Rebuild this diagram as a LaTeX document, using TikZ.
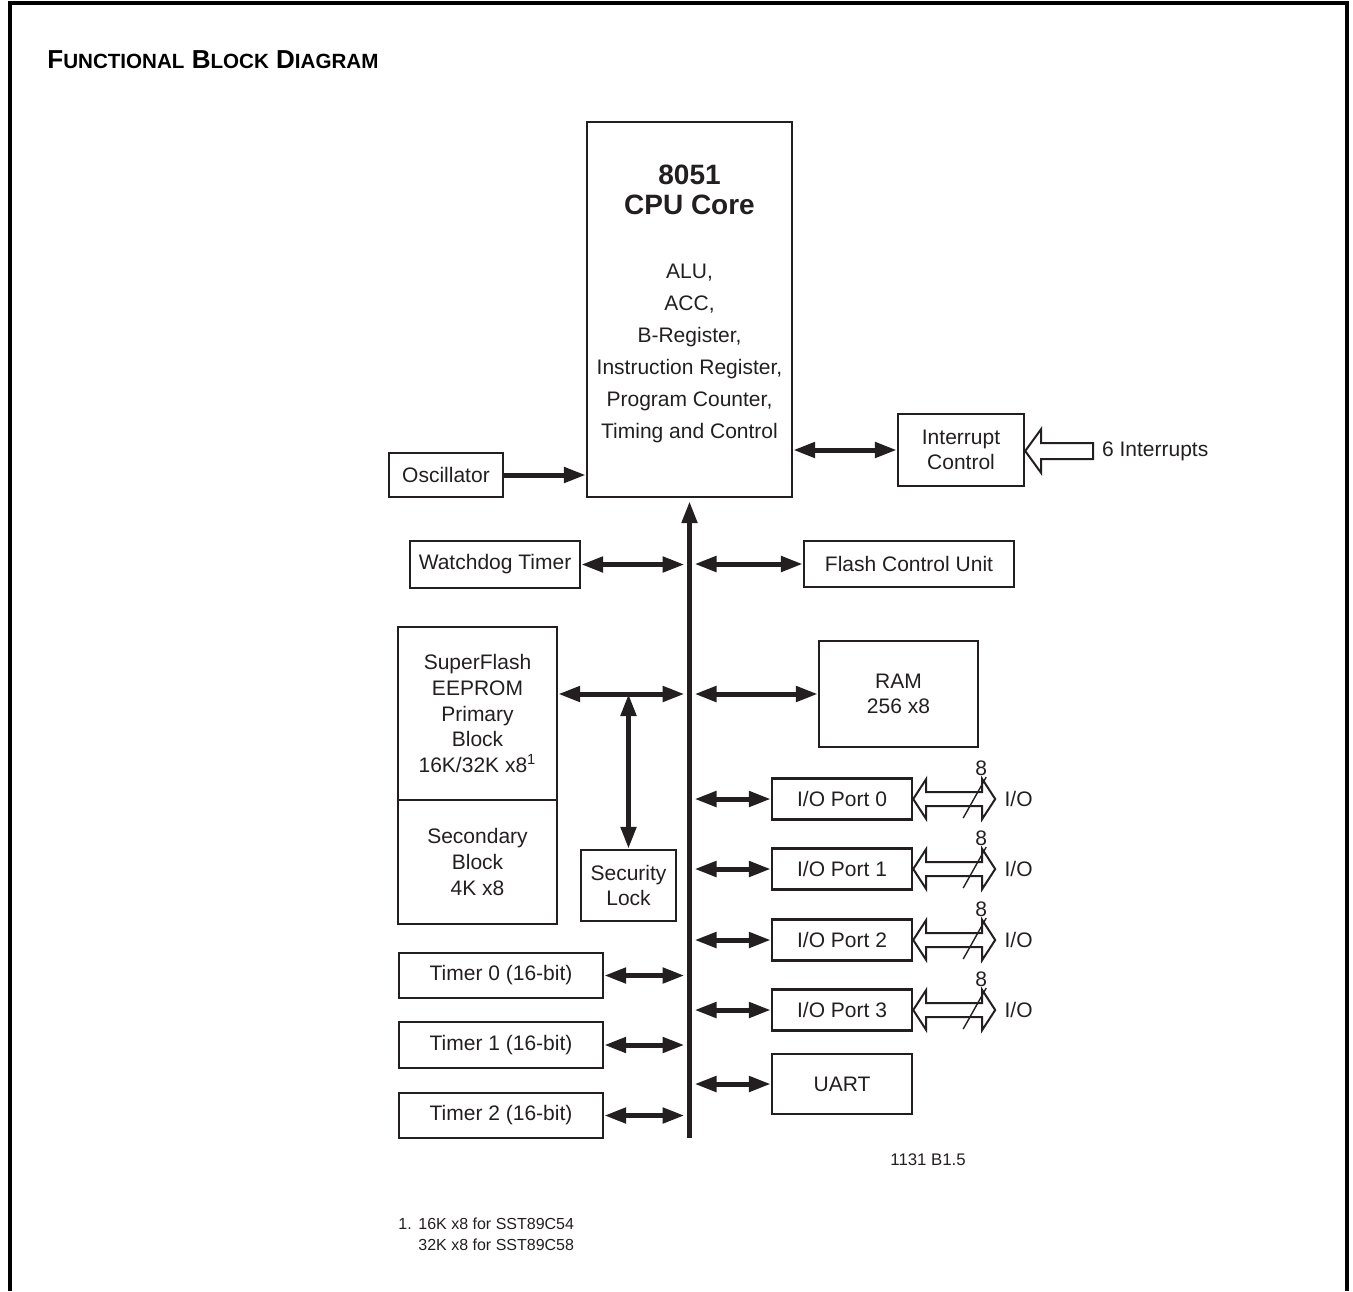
\documentclass[tikz,border=0pt]{standalone}
\usepackage{fontspec}
\setmainfont{Liberation Sans}
\usetikzlibrary{arrows.meta,calc}
\definecolor{ink}{HTML}{231F20}
\begin{document}
\begin{tikzpicture}[x=0.5pt,y=-0.5pt,
  every node/.style={text=ink, font=\fontsize{10.5}{12.8}\selectfont},
  box/.style={draw=ink, line width=1.2pt, inner sep=0pt, align=center},
  dbl/.style={draw=ink, line width=2.5pt, {Triangle[length=11pt,width=7.5pt]}-{Triangle[length=11pt,width=7.5pt]}},
  sgl/.style={draw=ink, line width=2.5pt, -{Triangle[length=11pt,width=7.5pt]}},
  hollow/.style={draw=ink, line width=1pt, fill=white, line join=miter},
  slash/.style={draw=ink, line width=0.7pt},
  small/.style={inner sep=0pt, font=\fontsize{8}{10.5}\selectfont},
]
\useasboundingbox (0,0) rectangle (1353,1291);
% frame
\draw[line width=2pt, black] (10,1291) -- (10,3) -- (1347,3) -- (1347,1291);
% title
\node[anchor=base west, inner sep=0pt, text=black, font=\bfseries\fontsize{13}{15}\selectfont] (title) at (47,68)
  {F{\fontsize{10.3}{12}\selectfont UNCTIONAL} B{\fontsize{10.3}{12}\selectfont LOCK} D{\fontsize{10.3}{12}\selectfont IAGRAM}};

% CPU
\node[box, minimum width=102.5pt, minimum height=187.5pt] (cpu) at (689.5,309.5) {};
\node[align=center, font=\bfseries\fontsize{14}{15}\selectfont] (cputitle) at (689.5,190) {8051\\CPU Core};
\node[align=center, font=\fontsize{10.5}{16}\selectfont] (cpulist) at (689.5,353)
  {ALU,\\ACC,\\B-Register,\\Instruction Register,\\Program Counter,\\Timing and Control};

\node[box, minimum width=57pt, minimum height=22pt] (osc) at (446,475) {Oscillator};
\node[box, minimum width=63pt, minimum height=36pt] (intc) at (961,450) {Interrupt\\Control};
\node[box, minimum width=85pt, minimum height=23.5pt] (wdt) at (495,564.5) {Watchdog Timer};
\node[box, minimum width=105pt, minimum height=23pt] (fcu) at (909,564) {Flash Control Unit};
\node[box, minimum width=79.5pt, minimum height=86.5pt] (prim) at (477.5,713.5)
  {SuperFlash\\EEPROM\\Primary\\Block\\16K/32K x8\textsuperscript{1}};
\node[box, minimum width=79.5pt, minimum height=62pt] (sec) at (477.5,862) {Secondary\\Block\\4K x8};
\node[box, minimum width=47.5pt, minimum height=35.5pt] (lock) at (628.5,885.5) {Security\\Lock};
\node[box, minimum width=79.5pt, minimum height=53pt] (ram) at (898.5,694) {RAM\\256 x8};
\node[box, minimum width=70pt, minimum height=30pt] (uart) at (842,1084) {UART};
\node[box, minimum width=102pt, minimum height=22.5pt] (t0) at (501,975.5) {Timer 0 (16-bit)};
\node[box, minimum width=102pt, minimum height=23pt] (t1) at (501,1045) {Timer 1 (16-bit)};
\node[box, minimum width=102pt, minimum height=22.5pt] (t2) at (501,1115.5) {Timer 2 (16-bit)};

% bus
\coordinate (busB) at (689.5,1138);
\draw[sgl, shorten >=1.5pt] (busB) -- (busB |- cpu.south);

% connectors
\draw[sgl] (osc) -- (osc -| cpu.west);
\draw[dbl] (cpu.east |- intc) -- (intc);
\draw[dbl, shorten >=2.5pt] (wdt) -- (wdt -| busB);
\draw[dbl, shorten >=2.5pt] (fcu) -- (fcu -| busB);
\coordinate (fj) at (lock.north |- ram);
\draw[dbl, shorten >=2.5pt] (prim.east |- ram) -- (ram -| busB);
\draw[dbl, shorten >=2.5pt] (ram) -- (ram -| busB);
\draw[dbl] (fj) -- (lock.north);
\draw[dbl, shorten >=2.5pt] (uart) -- (uart -| busB);
\draw[dbl, shorten >=2.5pt] (t0) -- (t0 -| busB);
\draw[dbl, shorten >=2.5pt] (t1) -- (t1 -| busB);
\draw[dbl, shorten >=2.5pt] (t2) -- (t2 -| busB);

% interrupts hollow arrow
\draw[hollow] (intc.east |- 0,451) -- ++(16,-22) -- ++(0,14) -- ++(52,0) -- ++(0,16) -- ++(-52,0) -- ++(0,14) -- cycle;
\coordinate (intEnd) at (1092,451);
\node[anchor=west] (intlbl) at (1095,451) {6 Interrupts};

% I/O ports
\foreach \i/\c in {0/799,1/869,2/940,3/1010} {
  \node[box, minimum width=70pt, minimum height=20.5pt] (io\i) at (842,\c) {I/O Port \i};
  \draw[dbl, shorten >=2.5pt] (io\i) -- (io\i -| busB);
  \draw[hollow] (io\i.east) -- ++(13,-20) -- ++(0,13) -- ++(56,0) -- ++(0,-13) -- ++(13,20)
     -- ++(-13,20) -- ++(0,-13) -- ++(-56,0) -- ++(0,13) -- cycle;
  \draw[slash] ($(io\i.east)+(50,19)$) -- ++(23,-41);
  \node[inner sep=0pt] (w\i) at ($(io\i.east)+(68,-31)$) {8};
  \node[anchor=west, inner sep=0pt] (iol\i) at ($(io\i.east)+(91,0)$) {I/O};
}

% notes
\node[small, anchor=base west, font=\fontsize{8.4}{10}\selectfont] (code) at (890,1165) {1131 B1.5};
\node[small, anchor=base west] (fnn) at (398,1229) {1.};
\node[small, anchor=base west] (fn1) at (418,1229) {16K x8 for SST89C54};
\node[small, anchor=base west] (fn2) at (418,1250) {32K x8 for SST89C58};
\end{tikzpicture}
\end{document}
